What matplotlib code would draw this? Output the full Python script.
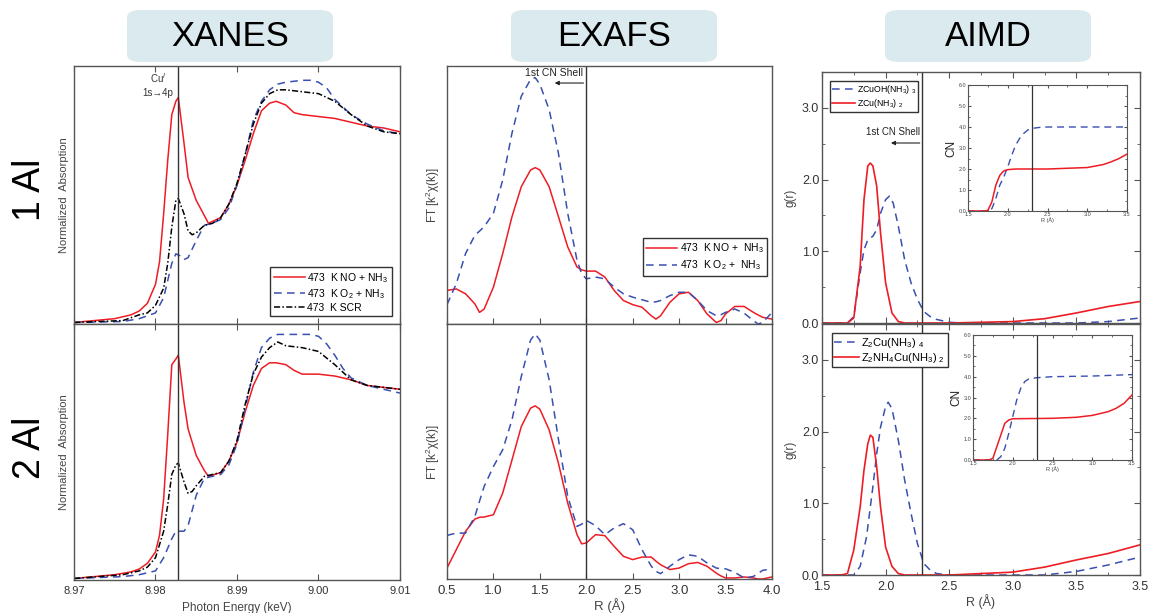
import numpy as np
import matplotlib
matplotlib.use("Agg")
import matplotlib.pyplot as plt
from matplotlib.patches import FancyBboxPatch

plt.rcParams['font.family'] = ['Liberation Sans', 'DejaVu Sans']
plt.rcParams['mathtext.fontset'] = 'custom'
plt.rcParams['mathtext.rm'] = 'Liberation Sans'
plt.rcParams['mathtext.it'] = 'Liberation Sans:italic'

W, H = 1150, 613
RED = '#ee1c24'
BLUE = '#3a4fb0'
GRAY = '#444444'

# ---------------- XANES data (normalized absorption) ----------------
xanes_e_red = [8.970, 8.975, 8.977, 8.978, 8.979, 8.980, 8.9805, 8.981, 8.9815, 8.982, 8.9825, 8.9828,
               8.9835, 8.984, 8.985, 8.986, 8.9865, 8.988, 8.989, 8.990, 8.991, 8.992, 8.993, 8.994,
               8.9948, 8.996, 8.997, 8.998, 9.000, 9.002, 9.004, 9.006, 9.008, 9.010]
xanes1_red = [0.0, 0.02, 0.04, 0.06, 0.10, 0.20, 0.32, 0.57, 0.85, 1.09, 1.16, 1.18,
              0.94, 0.76, 0.64, 0.56, 0.52, 0.55, 0.62, 0.72, 0.85, 0.99, 1.11, 1.15,
              1.16, 1.14, 1.10, 1.09, 1.08, 1.07, 1.05, 1.03, 1.02, 1.00]
xanes2_red = [0.0, 0.02, 0.035, 0.05, 0.08, 0.14, 0.23, 0.42, 0.76, 1.13, 1.16, 1.18,
              0.93, 0.79, 0.65, 0.57, 0.54, 0.56, 0.62, 0.72, 0.88, 1.02, 1.11, 1.14,
              1.14, 1.13, 1.10, 1.08, 1.08, 1.07, 1.05, 1.02, 1.01, 1.00]

xanes_e_blue = [8.970, 8.976, 8.978, 8.980, 8.981, 8.9815, 8.982, 8.9825, 8.983, 8.9835, 8.984,
                8.985, 8.986, 8.987, 8.988, 8.989, 8.990, 8.991, 8.992, 8.993, 8.994, 8.995,
                8.996, 8.998, 8.999, 9.000, 9.001, 9.002, 9.003, 9.004, 9.006, 9.008, 9.010]
xanes1_blue = [0.0, 0.005, 0.02, 0.05, 0.13, 0.22, 0.31, 0.36, 0.35, 0.33, 0.34,
               0.43, 0.51, 0.52, 0.54, 0.60, 0.72, 0.88, 1.06, 1.16, 1.22, 1.25,
               1.26, 1.27, 1.27, 1.26, 1.23, 1.17, 1.13, 1.09, 1.04, 1.005, 0.99]
xanes2_blue = [0.0, 0.01, 0.02, 0.04, 0.11, 0.16, 0.21, 0.25, 0.25, 0.25, 0.28,
               0.44, 0.53, 0.54, 0.55, 0.60, 0.71, 0.90, 1.09, 1.22, 1.27, 1.29,
               1.29, 1.29, 1.29, 1.28, 1.24, 1.18, 1.11, 1.06, 1.02, 1.00, 0.98]

xanes_e_black = [8.970, 8.976, 8.978, 8.979, 8.980, 8.981, 8.9815, 8.982, 8.9825, 8.9828, 8.9835,
                 8.984, 8.9845, 8.985, 8.986, 8.987, 8.988, 8.989, 8.990, 8.991, 8.992, 8.993,
                 8.994, 8.995, 8.996, 8.998, 9.000, 9.002, 9.004, 9.006, 9.008, 9.010]
xanes1_black = [0.0, 0.01, 0.04, 0.05, 0.09, 0.18, 0.31, 0.50, 0.64, 0.65, 0.57,
                0.48, 0.46, 0.47, 0.51, 0.52, 0.55, 0.62, 0.73, 0.88, 1.04, 1.15,
                1.20, 1.22, 1.22, 1.21, 1.20, 1.16, 1.09, 1.03, 1.00, 0.99]
xanes2_black = [0.0, 0.02, 0.04, 0.06, 0.11, 0.25, 0.39, 0.55, 0.60, 0.61, 0.51,
                0.45, 0.46, 0.49, 0.54, 0.55, 0.56, 0.62, 0.73, 0.92, 1.08, 1.17,
                1.22, 1.25, 1.23, 1.22, 1.20, 1.13, 1.05, 1.02, 1.01, 1.00]

# ---------------- EXAFS data (FT magnitude, arb.) ----------------
exafs_r = [0.5, 0.6, 0.7, 0.8, 0.85, 0.9, 1.0, 1.1, 1.2, 1.3, 1.4, 1.45, 1.5, 1.6, 1.7, 1.8,
           1.9, 1.95, 2.0, 2.1, 2.2, 2.3, 2.4, 2.5, 2.6, 2.7, 2.75, 2.8, 2.9, 3.0, 3.1, 3.2,
           3.3, 3.4, 3.45, 3.5, 3.6, 3.7, 3.8, 3.85, 3.9, 4.0]
exafs1_red = [1.30, 1.36, 1.17, 0.78, 0.45, 0.58, 1.43, 2.73, 4.16, 5.32, 5.97, 6.06, 5.97, 5.32, 4.16, 2.99,
              2.21, 2.10, 2.05, 2.05, 1.82, 1.30, 0.91, 0.75, 0.65, 0.32, 0.19, 0.32, 0.84, 1.17, 1.23, 0.91,
              0.39, 0.06, 0.13, 0.39, 0.68, 0.68, 0.45, 0.35, 0.26, 0.19]
exafs1_blue = [0.75, 1.56, 2.73, 3.44, 3.60, 3.77, 4.29, 5.58, 7.40, 8.83, 9.48, 9.55, 9.29, 8.31, 6.62, 4.29,
               2.47, 1.95, 1.75, 1.82, 1.75, 1.43, 1.17, 1.04, 0.94, 0.84, 0.86, 0.91, 1.10, 1.23, 1.23, 0.91,
               0.52, 0.32, 0.36, 0.45, 0.58, 0.42, 0.13, 0.0, 0.06, 0.45]
exafs2_red = [0.43, 1.15, 1.87, 2.35, 2.42, 2.43, 2.52, 3.37, 4.67, 5.98, 6.70, 6.79, 6.66, 5.85, 4.54, 2.98,
              1.74, 1.38, 1.41, 1.74, 1.70, 1.28, 0.89, 0.76, 0.86, 0.86, 0.70, 0.56, 0.37, 0.43, 0.60, 0.65,
              0.50, 0.23, 0.12, 0.04, 0.04, 0.08, 0.04, 0.0, 0.0, 0.08]
exafs2_blue = [1.71, 1.80, 1.80, 2.45, 3.05, 3.63, 4.41, 5.07, 6.24, 7.94, 9.37, 9.61, 9.37, 7.81, 5.48, 3.24,
               2.06, 2.15, 2.30, 2.09, 1.74, 2.00, 2.17, 1.93, 1.15, 0.50, 0.30, 0.21, 0.50, 0.76, 0.95, 0.89,
               0.63, 0.43, 0.41, 0.40, 0.26, 0.04, 0.10, 0.22, 0.34, 0.40]

# ---------------- AIMD data: g(r) ----------------
gr1_red_r = [1.5, 1.7, 1.75, 1.8, 1.83, 1.86, 1.88, 1.9, 1.93, 1.96, 2.0, 2.05, 2.1, 2.15, 2.5,
             3.0, 3.25, 3.5, 3.75, 4.0]
gr1_red = [0.0, 0.0, 0.07, 0.79, 1.72, 2.19, 2.23, 2.19, 1.91, 1.26, 0.56, 0.14, 0.02, 0.0, 0.0,
           0.02, 0.06, 0.14, 0.23, 0.30]
gr1_blue_r = [1.5, 1.7, 1.75, 1.8, 1.83, 1.86, 1.9, 1.93, 1.96, 2.0, 2.03, 2.06, 2.1, 2.15, 2.2,
              2.25, 2.3, 2.35, 2.4, 2.5, 2.6, 3.5, 3.75, 4.0]
gr1_blue = [0.0, 0.0, 0.09, 0.70, 1.02, 1.16, 1.21, 1.30, 1.53, 1.72, 1.77, 1.67, 1.35, 0.88, 0.56,
            0.33, 0.16, 0.09, 0.05, 0.01, 0.0, 0.0, 0.02, 0.07]
gr2_red_r = [1.5, 1.65, 1.7, 1.75, 1.8, 1.83, 1.86, 1.88, 1.9, 1.93, 1.96, 2.0, 2.05, 2.1, 2.15,
             2.5, 3.0, 3.25, 3.5, 3.75, 4.0]
gr2_red = [0.0, 0.0, 0.02, 0.35, 0.95, 1.46, 1.83, 1.95, 1.92, 1.51, 0.95, 0.39, 0.12, 0.02, 0.0,
           0.0, 0.04, 0.11, 0.21, 0.30, 0.42]
gr2_blue_r = [1.5, 1.75, 1.8, 1.85, 1.9, 1.93, 1.96, 2.0, 2.02, 2.05, 2.1, 2.15, 2.2, 2.25, 2.3,
              2.35, 2.4, 2.5, 3.25, 3.5, 3.75, 4.0]
gr2_blue = [0.0, 0.0, 0.12, 0.53, 1.23, 1.69, 2.06, 2.35, 2.41, 2.32, 1.88, 1.32, 0.86, 0.44, 0.16,
            0.07, 0.02, 0.0, 0.0, 0.05, 0.14, 0.25]
aimd_ticks = [1.5, 2.0, 2.5, 3.0, 3.5, 4.0]
aimd_ticklabels = ['1.5', '2.0', '2.5', '3.0', '3.5', '3.5']

# ---------------- AIMD insets: CN ----------------
cn1_red_r = [1.5, 1.7, 1.75, 1.8, 1.85, 1.9, 1.95, 2.0, 2.1, 2.5, 3.0, 3.2, 3.3, 3.4, 3.5]
cn1_red = [0.0, 0.0, 0.03, 0.43, 1.23, 1.70, 1.91, 1.97, 2.0, 2.0, 2.07, 2.21, 2.34, 2.50, 2.71]
cn1_blue_r = [1.5, 1.75, 1.8, 1.85, 1.9, 1.95, 2.0, 2.05, 2.1, 2.15, 2.2, 2.25, 2.3, 2.4, 2.5, 3.5]
cn1_blue = [0.0, 0.0, 0.11, 0.59, 1.23, 1.62, 2.10, 2.66, 3.14, 3.46, 3.69, 3.85, 3.93, 3.98, 4.0, 4.0]
cn2_red_r = [1.5, 1.7, 1.75, 1.8, 1.85, 1.9, 1.95, 2.0, 2.5, 2.8, 3.0, 3.2, 3.3, 3.4, 3.5]
cn2_red = [0.0, 0.0, 0.08, 0.64, 1.20, 1.76, 1.92, 1.98, 2.0, 2.05, 2.14, 2.32, 2.48, 2.72, 3.12]
cn2_blue_r = [1.5, 1.8, 1.85, 1.9, 1.95, 2.0, 2.05, 2.1, 2.15, 2.2, 2.3, 2.5, 3.0, 3.5]
cn2_blue = [0.0, 0.0, 0.16, 0.56, 1.28, 2.08, 2.88, 3.44, 3.76, 3.89, 3.95, 4.0, 4.03, 4.1]


def px(l, t, r, b):
    """pixel box -> figure fraction rect"""
    return [l / W, 1 - b / H, (r - l) / W, (b - t) / H]


def frame(ax, lw=1.0):
    for s in ax.spines.values():
        s.set_color('#555555')
        s.set_linewidth(lw)


def box_legend(ax, loc, anchor, fs, hl, **kw):
    leg = ax.legend(loc=loc, bbox_to_anchor=anchor, fontsize=fs, frameon=True, fancybox=False,
                    edgecolor='#333333', framealpha=1, handlelength=hl, borderaxespad=0,
                    handletextpad=0.2, **kw)
    leg.get_frame().set_linewidth(1.0)
    return leg


fig = plt.figure(figsize=(W / 100, H / 100), dpi=100)

# title boxes
for label, l in [('XANES', 127), ('EXAFS', 511), ('AIMD', 885)]:
    box = FancyBboxPatch((l / W, 1 - 62 / H), 206 / W, 52 / H, boxstyle='round,pad=0,rounding_size=0.012',
                         transform=fig.transFigure, facecolor='#dbeaef', edgecolor='none')
    fig.patches.append(box)
    fig.text((l + 103) / W, 1 - 36 / H, label, ha='center', va='center', fontsize=25)

fig.text(30 / W, 1 - 190 / H, '1 Al', rotation=90, ha='center', va='center', fontsize=27)
fig.text(30 / W, 1 - 448 / H, '2 Al', rotation=90, ha='center', va='center', fontsize=27)

# ---------------- XANES ----------------
xan = [fig.add_axes(px(74, 66, 400, 324)), fig.add_axes(px(74, 324, 400, 580))]
xdata = [(xanes1_red, xanes1_blue, xanes1_black), (xanes2_red, xanes2_blue, xanes2_black)]
for i, ax in enumerate(xan):
    red, blue, black = xdata[i]
    ax.plot(xanes_e_red, red, color=RED, lw=1.1, label='473  K NO + NH$_3$')
    ax.plot(xanes_e_blue, blue, color=BLUE, lw=1.1, dashes=(5, 3.5), label='473  K O$_2$ + NH$_3$')
    ax.plot(xanes_e_black, black, color='black', lw=1.1, dashes=(4, 1.5, 1, 1.5), label='473  K SCR')
    ax.axvline(8.9828, color='#333333', lw=1.0)
    ax.set_xlim(8.97, 9.01)
    ax.set_ylim(-0.008, 1.345)
    ax.set_xticks([8.97, 8.98, 8.99, 9.00, 9.01])
    ax.set_yticks([])
    ax.tick_params(axis='x', direction='in', top=True, length=4, color='#555555',
                   labelsize=8, labelcolor='#333333', pad=4)
    ax.set_ylabel('Normalized  Absorption', fontsize=8, color=GRAY)
    ax.yaxis.set_label_coords(-0.016, 0.5)
    frame(ax)
xan[0].tick_params(labelbottom=False)
xan[1].set_xticklabels(['8.97', '8.98', '8.99', '9.00', '9.01'])
xan[1].set_xlabel('Photon Energy (keV)', fontsize=8.5, color=GRAY)
xan[1].xaxis.set_label_coords(0.5, -0.085)
xan[0].text(8.9803, 1.28, 'Cu$^I$', ha='center', va='center', fontsize=7, color='#333333')
xan[0].text(8.9803, 1.205, '1s→4p', ha='center', va='center', fontsize=7, color='#333333')
box_legend(xan[0], 'lower right', (0.975, 0.03), 7.5, 3.0, labelspacing=0.2, borderpad=0.35)

# ---------------- EXAFS ----------------
exa = [fig.add_axes(px(447, 66, 772, 324)), fig.add_axes(px(447, 324, 772, 579))]
edata = [(exafs1_red, exafs1_blue), (exafs2_red, exafs2_blue)]
for i, ax in enumerate(exa):
    red, blue = edata[i]
    ax.plot(exafs_r, red, color=RED, lw=1.1, label='473  K NO +  NH$_3$')
    ax.plot(exafs_r, blue, color=BLUE, lw=1.1, dashes=(5, 3.5), label='473  K O$_2$ +  NH$_3$')
    ax.axvline(2.0, color='#333333', lw=1.0)
    ax.set_xlim(0.5, 4.0)
    ax.set_ylim(0, 10)
    ax.set_xticks(np.arange(0.5, 4.01, 0.5))
    ax.set_yticks([])
    ax.tick_params(axis='x', direction='in', length=4, color='#555555', labelsize=9.5,
                   labelcolor='#333333', pad=4)
    ax.set_ylabel('FT [k$^2$χ(k)]', fontsize=8.5, color=GRAY)
    ax.yaxis.set_label_coords(-0.016, 0.5)
    frame(ax)
exa[0].tick_params(labelbottom=False)
exa[1].set_xlabel('R (Å)', fontsize=9.5, color=GRAY)
exa[1].xaxis.set_label_coords(0.5, -0.075)
exa[0].text(1.965, 9.73, '1st CN Shell', ha='right', va='center', fontsize=7.5, color='#222222')
exa[0].annotate('', xy=(1.63, 9.34), xytext=(2.0, 9.34),
                arrowprops=dict(arrowstyle='-|>', color='#222222', lw=0.8, mutation_scale=6))
box_legend(exa[0], 'lower right', (0.985, 0.186), 7.5, 3.0, labelspacing=0.3, borderpad=0.35)

# ---------------- AIMD ----------------
aim = [fig.add_axes(px(822, 72, 1140, 323)), fig.add_axes(px(822, 324, 1140, 575))]
gdata = [(gr1_blue_r, gr1_blue, 'ZCuOH(NH$_3$) $_3$', gr1_red_r, gr1_red, 'ZCu(NH$_3$) $_2$'),
         (gr2_blue_r, gr2_blue, 'Z$_2$Cu(NH$_3$) $_4$', gr2_red_r, gr2_red, 'Z$_2$NH$_4$Cu(NH$_3$) $_2$')]
for i, ax in enumerate(aim):
    br, bv, bl, rr, rv, rl = gdata[i]
    ax.plot(br, bv, color=BLUE, lw=1.1, dashes=(5, 3.5), label=bl)
    ax.plot(rr, rv, color=RED, lw=1.2, label=rl)
    ax.axvline(2.29, color='#333333', lw=1.0)
    ax.set_xlim(1.5, 4.0)
    ax.set_ylim(0, 3.5)
    ax.set_xticks(aimd_ticks)
    ax.set_xticklabels(aimd_ticklabels)
    ax.set_xticks(np.arange(1.5, 4.01, 0.25), minor=True)
    ax.set_yticks([0, 1, 2, 3])
    ax.set_yticklabels(['0.0', '1.0', '2.0', '3.0'])
    ax.set_yticks(np.arange(0, 3.51, 0.5), minor=True)
    ax.tick_params(which='both', direction='in', top=True, right=True, color='#555555',
                   labelsize=9, labelcolor='#333333')
    ax.tick_params(axis='y', pad=2)
    ax.tick_params(axis='x', pad=4)
    ax.tick_params(which='major', length=4)
    ax.tick_params(which='minor', length=2.5)
    ax.set_ylabel('g(r)', fontsize=8.5, color=GRAY)
    ax.yaxis.set_label_coords(-0.079, 0.5)
    frame(ax)
box_legend(aim[0], 'upper left', (0.025, 0.965), 6.3, 2.6, labelspacing=0.15, borderpad=0.25)
box_legend(aim[1], 'upper left', (0.03, 0.965), 8, 2.2, labelspacing=0.1, borderpad=0.25)
aim[0].tick_params(labelbottom=False)
aim[1].set_xlabel('R (Å)', fontsize=9, color=GRAY)
aim[1].xaxis.set_label_coords(0.5, -0.075)
aim[0].text(2.27, 2.66, '1st CN Shell', ha='right', va='center', fontsize=7, color='#222222')
aim[0].annotate('', xy=(2.02, 2.51), xytext=(2.29, 2.51),
                arrowprops=dict(arrowstyle='-|>', color='#222222', lw=0.8, mutation_scale=6))

# insets
ins = [fig.add_axes(px(968, 85, 1127, 211)), fig.add_axes(px(973, 335, 1132, 460))]
cdata = [(cn1_blue_r, cn1_blue, cn1_red_r, cn1_red), (cn2_blue_r, cn2_blue, cn2_red_r, cn2_red)]
for i, ax in enumerate(ins):
    br, bv, rr, rv = cdata[i]
    ax.plot(br, bv, color=BLUE, lw=1.0, dashes=(5, 3.5))
    ax.plot(rr, rv, color=RED, lw=1.1)
    ax.axvline(2.3, color='#333333', lw=0.9)
    ax.set_xlim(1.5, 3.5)
    ax.set_ylim(0, 6)
    ax.set_xticks([1.5, 2.0, 2.5, 3.0, 3.5])
    ax.set_xticks(np.arange(1.5, 3.51, 0.25), minor=True)
    ax.set_yticks(np.arange(0, 6.1, 1.0))
    ax.set_yticklabels(['%.1f' % v for v in np.arange(0, 6.1, 1.0)])
    ax.set_yticks(np.arange(0, 6.1, 0.5), minor=True)
    ax.tick_params(which='both', direction='in', top=True, right=True, color='#555555',
                   labelsize=4, labelcolor='#444444', pad=1)
    ax.tick_params(which='major', length=2.5)
    ax.tick_params(which='minor', length=1.5)
    ax.set_xlabel('R (Å)', fontsize=4, color=GRAY, labelpad=0)
    ax.set_ylabel('CN', fontsize=8.5, color='#222222', labelpad=1)
    frame(ax, 0.8)

fig.savefig('out.png', dpi=100)
